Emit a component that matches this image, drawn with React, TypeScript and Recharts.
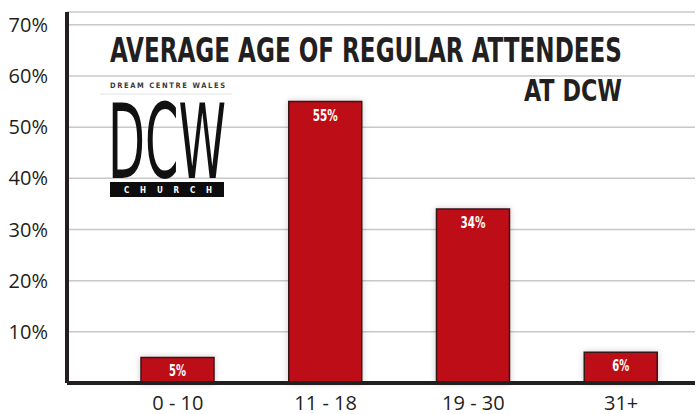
import { BarChart, Bar, XAxis, YAxis, CartesianGrid, LabelList } from 'recharts';

const ageGroups = ['0 - 10', '11 - 18', '19 - 30', '31+'];
const attendeeShare = [5, 55, 34, 6];
const yTicks = [10, 20, 30, 40, 50, 60, 70];

const data = ageGroups.map((group, i) => ({ group, share: attendeeShare[i] }));

const ink = '#231f20';
const barRed = '#bd0c16';
const narrow = '"DejaVu Sans Condensed", "Liberation Sans", sans-serif';

const BarLabel = (props: any) => {
  const { x, y, width, value } = props;
  return (
    <text x={x + width / 2} y={y + 19} textAnchor="middle" fill="#fff"
      fontFamily={narrow} fontWeight={700} fontSize={15}
      textLength={String(value).length > 1 ? 25 : 17} lengthAdjust="spacingAndGlyphs">
      {value}%
    </text>
  );
};

const Overlay = () => (
  <svg width={699} height={414} style={{ position: 'absolute', left: 0, top: 0, pointerEvents: 'none' }}>
    <text x={110} y={62} fill={ink} fontFamily={narrow} fontWeight={700} fontSize={34}
      textLength={512} lengthAdjust="spacingAndGlyphs">AVERAGE AGE OF REGULAR ATTENDEES</text>
    <text x={524} y={101} fill={ink} fontFamily={narrow} fontWeight={700} fontSize={30}
      textLength={98} lengthAdjust="spacingAndGlyphs">AT DCW</text>
    <text x={110} y={88} fill="#3a3a3a" fontFamily={narrow} fontWeight={700} fontSize={7.5}
      textLength={115} lengthAdjust="spacing">DREAM CENTRE WALES</text>
    <line x1={100} y1={94} x2={232} y2={94} stroke="#e2e2e2" strokeWidth={1} />
    <text x={108} y={178} fill="#111" fontFamily='"DejaVu Sans Condensed", sans-serif' fontWeight={400} fontSize={103}
      textLength={118} lengthAdjust="spacingAndGlyphs">DCW</text>
    <rect x={110} y={182} width={114} height={15} fill="#0d0d0d" />
    <text x={124} y={193} fill="#fff" fontFamily={narrow} fontWeight={700} fontSize={8}
      textLength={88} lengthAdjust="spacing">CHURCH</text>
  </svg>
);

export default function App() {
  return (
    <div style={{ position: 'absolute', left: 0, top: 0, width: 699, height: 414, background: '#fff' }}>
      <BarChart width={699} height={414} data={data}
        margin={{ top: 12, right: 4, left: 0, bottom: 0 }}>
        <defs>
          <filter id="barShadow" x="-20%" y="-20%" width="140%" height="140%">
            <feDropShadow dx={0} dy={0} stdDeviation={3} floodColor="#000" floodOpacity={0.2} />
          </filter>
        </defs>
        <CartesianGrid vertical={false} stroke="#c8c8c8" strokeWidth={1.5} />
        <XAxis dataKey="group" height={31} padding={{ left: 37, right: 0 }}
          axisLine={{ stroke: ink, strokeWidth: 4 }} tickLine={false} tickMargin={7}
          tick={{ fill: ink, fontSize: 20, fontFamily: '"Open Sans", sans-serif' }} />
        <YAxis width={67} domain={[0, 72.5]} ticks={yTicks} tickFormatter={(v) => `${v}%`}
          axisLine={{ stroke: ink, strokeWidth: 4 }} tickLine={false} tickSize={0} tickMargin={19}
          tick={{ fill: ink, fontSize: 20, fontFamily: '"Open Sans", sans-serif' }} />
        <Bar dataKey="share" fill={barRed} stroke="#3b1517" strokeWidth={1.5} barSize={73}
          isAnimationActive={false} style={{ filter: 'url(#barShadow)' }}>
          <LabelList dataKey="share" content={BarLabel} />
        </Bar>
      </BarChart>
      <Overlay />
    </div>
  );
}
